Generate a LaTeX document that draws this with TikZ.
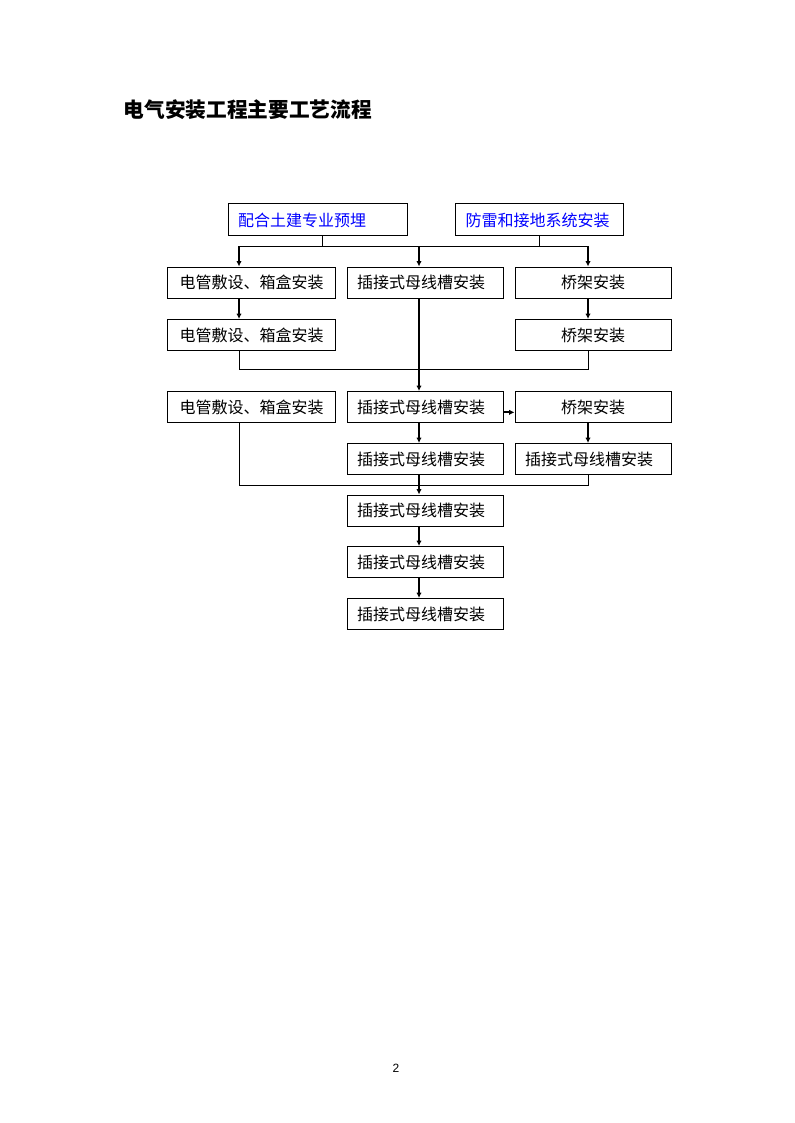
\documentclass[tikz,border=0pt]{standalone}
\usepackage{fontspec}
\setmainfont{Liberation Sans}
\newfontfamily\cjk{Noto Sans CJK SC}
\usetikzlibrary{arrows.meta}

\begin{document}
\begin{tikzpicture}[
			x=0.75pt, y=-0.75pt,
			base/.style={draw, line width=0.75pt, inner sep=0pt, minimum height=31*0.75pt, font=\cjk\fontsize{12}{14}\selectfont},
			top-box/.style={base, minimum height=32*0.75pt, text=blue, align=left},
			wide-box/.style={base, minimum width=168*0.75pt},
			mid-box/.style={base, minimum width=156*0.75pt},
			line/.style={line width=0.75pt},
			arr/.style={line width=1.5pt, -{Latex[length=4pt,width=4pt]}},
			]

			\useasboundingbox (0,0) rectangle (795,1123);

			\node [font=\cjk\bfseries\fontsize{15.5}{18}\selectfont, anchor=west] (title) at (119,110) {电气安装工程主要工艺流程};

			% first layer
			\node [top-box, minimum width=179*0.75pt, text width=159*0.75pt] (pre) at (317.5,220) {配合土建专业预埋};
			\node [top-box, minimum width=168*0.75pt, text width=148*0.75pt] (lp)  at (539.5,220) {防雷和接地系统安装};

			% columns and bus lines
			\coordinate (cA) at (239,0);
			\coordinate (cB) at (419,0);
			\coordinate (cC) at (588,0);
			\coordinate (y1) at (0,246);
			\coordinate (y2) at (0,369);
			\coordinate (y3) at (0,485);

			\node [wide-box]                               (l1) at (251.5,282.5) {电管敷设、箱盒安装};
			\node [mid-box, text width=136*0.75pt, align=left] (m1) at (425,282.5)   {插接式母线槽安装};
			\node [mid-box]                                (r1) at (593,282.5)   {桥架安装};

			\node [wide-box]                               (l2) at (251.5,335)   {电管敷设、箱盒安装};
			\node [mid-box]                                (r2) at (593,335)     {桥架安装};

			\node [wide-box]                               (l3) at (251.5,407)   {电管敷设、箱盒安装};
			\node [mid-box, text width=136*0.75pt, align=left] (m3) at (425,407)     {插接式母线槽安装};
			\node [mid-box]                                (r3) at (593,407)     {桥架安装};

			\node [mid-box, text width=136*0.75pt, align=left] (m4) at (425,459)     {插接式母线槽安装};
			\node [mid-box, text width=136*0.75pt, align=left] (r4) at (593,459)     {插接式母线槽安装};

			\node [mid-box, text width=136*0.75pt, align=left] (m5) at (425,510.5)   {插接式母线槽安装};
			\node [mid-box, text width=136*0.75pt, align=left] (m6) at (425,562)     {插接式母线槽安装};
			\node [mid-box, text width=136*0.75pt, align=left] (m7) at (425,614)     {插接式母线槽安装};

			% page number
			\node [font=\fontsize{9}{11}\selectfont] (page) at (396,1068) {2};

			% top bus
			\draw [line] ([xshift=4pt]pre.south) -- ([xshift=4pt]pre.south |- y1);
			\draw [line] (lp.south) -- (lp.south |- y1);
			\draw [line] (cA |- y1) -- (cC |- y1);
			\draw [arr] (cA |- y1) -- (cA |- l1.north);
			\draw [arr] (cB |- y1) -- (cB |- m1.north);
			\draw [arr] (cC |- y1) -- (cC |- r1.north);

			\draw [arr] (cA |- l1.south) -- (cA |- l2.north);
			\draw [arr] (cC |- r1.south) -- (cC |- r2.north);

			% second bus
			\draw [line] (cA |- l2.south) -- (cA |- y2) -- (cC |- y2) -- (cC |- r2.south);
			\draw [arr] (cB |- m1.south) -- (cB |- m3.north);

			\draw [arr] ([yshift=-4pt]m3.east) -- ([yshift=-4pt]r3.west);
			\draw [arr] (cB |- m3.south) -- (cB |- m4.north);
			\draw [arr] (cC |- r3.south) -- (cC |- r4.north);

			% third bus
			\draw [line] (cA |- l3.south) -- (cA |- y3) -- (cC |- y3) -- (cC |- r4.south);
			\draw [arr] (cB |- m4.south) -- (cB |- m5.north);
			\draw [arr] (cB |- m5.south) -- (cB |- m6.north);
			\draw [arr] (cB |- m6.south) -- (cB |- m7.north);

		\end{tikzpicture}
\end{document}
